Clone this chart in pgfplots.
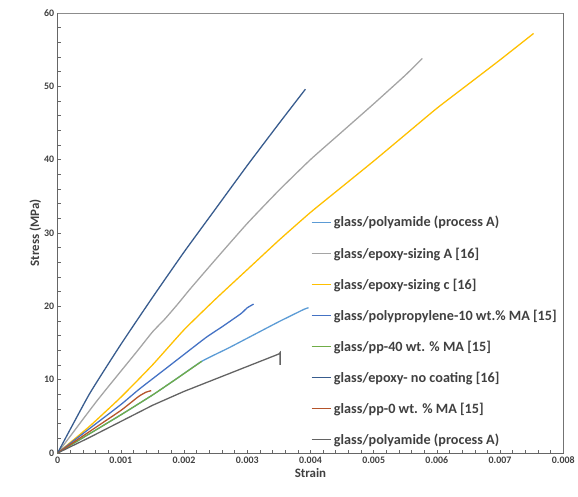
\documentclass[border=0pt]{standalone}
\usepackage{fontspec}
\setmainfont{Carlito}
\usepackage{pgfplots}
\pgfplotsset{compat=1.18}

\definecolor{cLBlue}{HTML}{5B9BD5}
\definecolor{cGray}{HTML}{A5A5A5}
\definecolor{cYellow}{HTML}{FFC000}
\definecolor{cBlue}{HTML}{4472C4}
\definecolor{cGreen}{HTML}{70AD47}
\definecolor{cDBlue}{HTML}{385C8E}
\definecolor{cBrown}{HTML}{B5542A}
\definecolor{cDGray}{HTML}{636363}
\definecolor{cText}{HTML}{404040}

\begin{document}
\begin{tikzpicture}
\begin{axis}[
    scale only axis,
    width=509pt, height=443pt,
    xmin=0, xmax=0.008,
    ymin=0, ymax=60,
    xtick={0,0.001,...,0.008},
    ytick={0,10,...,60},
    minor x tick num=4,
    minor y tick num=4,
    xtick pos=bottom, ytick pos=left,
    tick align=inside,
    major tick length=3pt, minor tick length=3pt,
    tick style={black!60, line width=0.6pt},
    axis line style={black!60, line width=0.8pt},
    scaled x ticks=false,
    xticklabel style={/pgf/number format/.cd, fixed, precision=3, assume math mode=true},
    yticklabel style={/pgf/number format/assume math mode=true},
    ticklabel style={font=\fontsize{10}{12}\selectfont\bfseries, text=cText},
    xlabel={Strain},
    ylabel={Stress (MPa)},
    label style={font=\fontsize{13}{15}\selectfont\bfseries, text=cText},
    xlabel style={yshift=2pt},
    ylabel style={yshift=-4pt},
    legend cell align=left,
    legend style={draw=none, fill=none,
        at={(rel axis cs:0.495,0.547)}, anchor=north west,
        font=\fontsize{14.3}{16}\selectfont\bfseries,
        text=cText, row sep=15.3pt},
    legend image code/.code={\draw[#1, line width=1pt] (0pt,0pt) -- (20pt,0pt);},
    every axis plot/.append style={line width=1.3pt, mark=none},
]
% glass/polyamide (process A)
\addplot[cLBlue, smooth, tension=0.3] coordinates {
(0,0) (0.0005,2.6) (0.001,5.2) (0.0015,7.9) (0.00186,10.0) (0.00228,12.5)
(0.0027,14.3) (0.0031,16.1) (0.0035,17.9) (0.0039,19.6) (0.00397,19.8)};
% glass/epoxy-sizing A [16]
\addplot[cGray, smooth, tension=0.3] coordinates {
(0,0) (0.00063,7.2) (0.00126,13.9) (0.0015,16.5) (0.0017,18.3) (0.0019,20.3)
(0.0021,22.4) (0.0025,26.4) (0.003,31.3) (0.0035,35.8) (0.004,40.0)
(0.0045,43.8) (0.005,47.6) (0.0055,51.5) (0.00577,53.8)};
% glass/epoxy-sizing c [16]
\addplot[cYellow, smooth, tension=0.3] coordinates {
(0,0) (0.0005,3.6) (0.001,7.6) (0.0015,12.0) (0.002,16.8) (0.0025,21.0)
(0.003,25.0) (0.0035,29.0) (0.004,32.8) (0.0045,36.3) (0.005,39.8)
(0.0055,43.4) (0.006,47.0) (0.0065,50.3) (0.007,53.6) (0.00753,57.2)};
% glass/polypropylene-10 wt.% MA [15]
\addplot[cBlue, smooth, tension=0.3] coordinates {
(0,0) (0.0005,3.3) (0.001,6.6) (0.00129,8.7) (0.00174,11.7) (0.00234,15.7)
(0.0026,17.2) (0.0029,19.0) (0.003,19.8) (0.0031,20.3)};
% glass/pp-40 wt. % MA [15]
\addplot[cGreen, smooth, tension=0.3] coordinates {
(0,0) (0.0005,2.6) (0.001,5.2) (0.0015,7.9) (0.00186,10.0) (0.00228,12.5)};
% glass/epoxy- no coating [16]
\addplot[cDBlue, smooth, tension=0.3] coordinates {
(0,0) (0.0005,8.0) (0.001,14.8) (0.0015,21.2) (0.002,27.4) (0.0025,33.3)
(0.003,39.2) (0.0035,44.9) (0.00392,49.6)};
% glass/pp-0 wt. % MA [15]
\addplot[cBrown, smooth, tension=0.3] coordinates {
(0,0) (0.0005,2.9) (0.001,5.8) (0.00128,7.7) (0.0014,8.3) (0.00148,8.5)};
% glass/polyamide (process A)
\addplot[cDGray] coordinates {
(0,0) (0.0005,2.1) (0.001,4.3) (0.0015,6.5) (0.002,8.4) (0.0025,10.1)
(0.003,11.8) (0.0035,13.5) (0.00352,13.7) (0.00352,12.0)};
\legend{glass/polyamide (process A), glass/epoxy-sizing A [16],
  glass/epoxy-sizing c [16], glass/polypropylene-10 wt.\% MA [15],
  glass/pp-40 wt. \% MA [15], glass/epoxy- no coating [16],
  glass/pp-0 wt. \% MA [15], glass/polyamide (process A)}
% top and right border of the plot area
\draw[black!45, line width=0.8pt] (rel axis cs:0,1) -- (rel axis cs:1,1) -- (rel axis cs:1,0);
\end{axis}
\path (-58pt,-44pt) rectangle (520pt,456pt);
\end{tikzpicture}
\end{document}
